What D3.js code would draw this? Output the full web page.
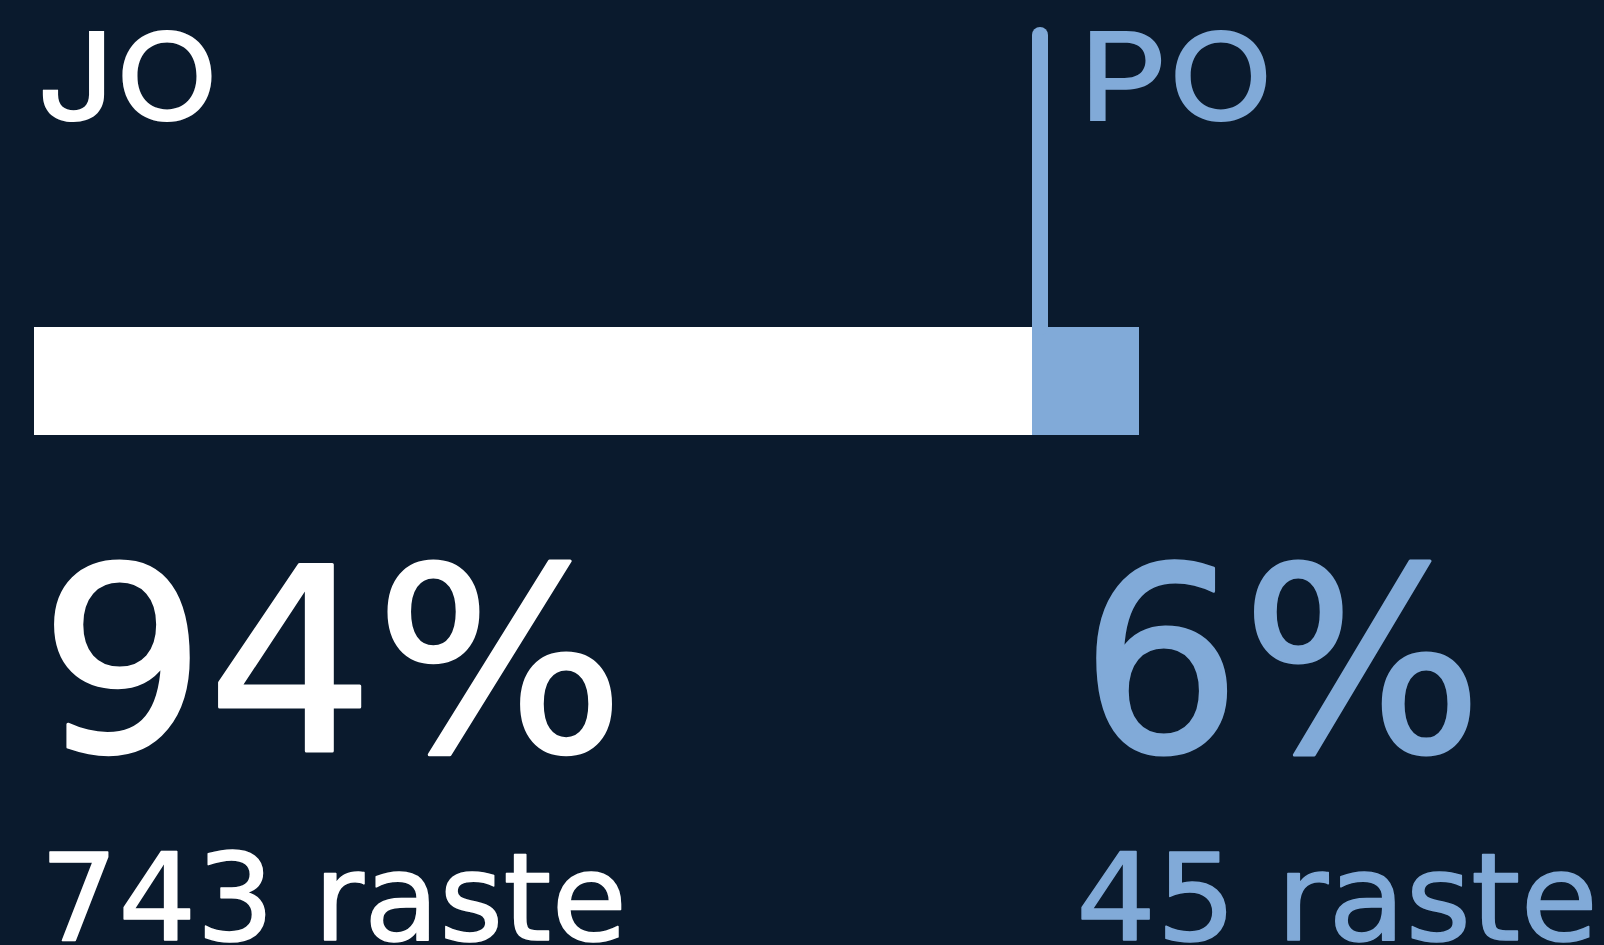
<!DOCTYPE html>
<html>
<head>
<meta charset="utf-8">
<script src="https://cdn.jsdelivr.net/npm/d3@7"></script>
<style>
  html, body { margin: 0; padding: 0; background: #0a1a2d; }
  svg { display: block; }
  text { font-family: "DejaVu Sans", "Noto Sans", sans-serif; }
</style>
</head>
<body>
<div id="chart"></div>
<script>
// Data
const categories = ['JO', 'PO'];
const votes = [743, 45];
const shares = ['94%', '6%'];
const unit = 'raste';

const width = 1604;
const height = 945;
const margin = {top: 0, right: 0, bottom: 0, left: 34};
const barWidth = 1105;   // full length of the stacked bar
const minSegment = 107;  // the small segment never gets thinner than this
const barTop = 327;
const barHeight = 108;

const colorScale = d3.scaleOrdinal()
  .domain(categories)
  .range(['#ffffff', '#81aad8']);

const svg = d3.select('#chart')
  .append('svg')
    .attr('viewBox', `0 0 ${width} ${height}`)
    .attr('width', width)
    .attr('height', height);

svg.append('rect')
  .attr('width', width)
  .attr('height', height)
  .attr('fill', '#0a1a2d');

// Split of the bar
const total = d3.sum(votes);
const xScale = d3.scaleLinear()
  .domain([0, total])
  .range([0, barWidth]);
const smallW = Math.max(minSegment, xScale(votes[1]));
const widths = [barWidth - smallW, smallW];
const starts = [margin.left, margin.left + widths[0]];
const splitX = starts[1];

svg.append('g')
  .selectAll('rect')
  .data(categories)
  .join('rect')
    .attr('x', (d, i) => starts[i])
    .attr('y', barTop)
    .attr('width', (d, i) => widths[i])
    .attr('height', barHeight)
    .attr('fill', d => colorScale(d));

// Divider line
svg.append('line')
  .attr('x1', splitX + 8)
  .attr('x2', splitX + 8)
  .attr('y1', 35)
  .attr('y2', barTop)
  .attr('stroke', colorScale('PO'))
  .attr('stroke-width', 16)
  .attr('stroke-linecap', 'round');

// Label rows: baseline, font, font size, x offset and text length per column
const colX = [margin.left, splitX + 44];
const rows = [
  {y: 121, font: 'Inter, "DejaVu Sans", sans-serif', weight: 500, size: 124, stroke: 0,
    dx: [3, 3], len: [182, 195], text: (d, i) => d},
  {y: 751, font: '"DejaVu Sans", sans-serif', weight: 400, size: 256, stroke: 3,
    dx: [5, 4], len: [586, 403], text: (d, i) => shares[i]},
  {y: 940, font: '"DejaVu Sans", sans-serif', weight: 400, size: 121, stroke: 1.5,
    dx: [6, 0], len: [587, 522], text: (d, i) => `${votes[i]} ${unit}`}
];

rows.forEach(r => {
  svg.append('g')
    .selectAll('text')
    .data(categories)
    .join('text')
      .attr('x', (d, i) => colX[i] + r.dx[i])
      .attr('y', r.y)
      .style('font-family', r.font)
      .attr('font-weight', r.weight)
      .attr('font-size', r.size)
      .attr('textLength', (d, i) => r.len[i])
      .attr('lengthAdjust', 'spacingAndGlyphs')
      .attr('fill', d => colorScale(d))
      .attr('stroke', d => colorScale(d))
      .attr('stroke-width', r.stroke)
      .attr('stroke-linejoin', 'round')
      .text(r.text);
});
</script>
</body>
</html>
